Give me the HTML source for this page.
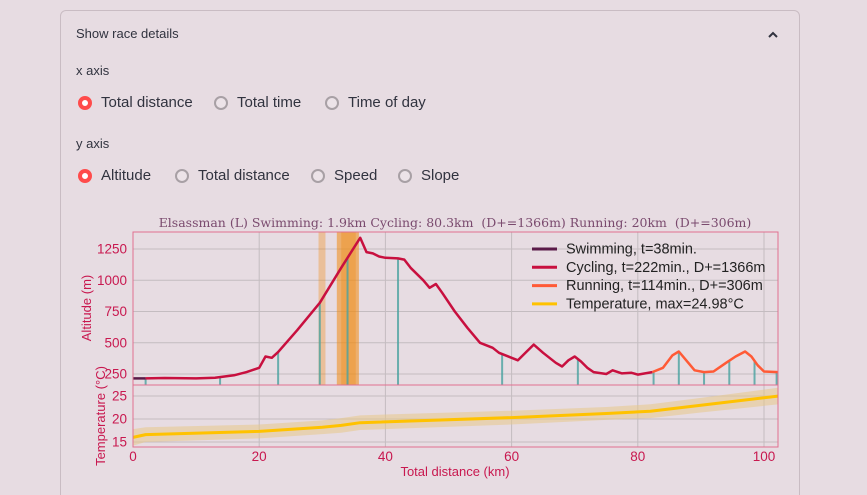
<!DOCTYPE html>
<html style="height:495px;overflow:hidden"><head><meta charset="utf-8"><style>
body{margin:0;width:867px;height:495px;background:#e7dce2;font-family:"Liberation Sans",sans-serif;overflow:hidden;position:relative;color:#31333f}
.panel{position:absolute;left:60px;top:10px;width:740px;height:495px;border:1px solid #c9bcc3;border-radius:6px;box-sizing:border-box}
.t{position:absolute;font-size:14px}
.lbl{position:absolute;font-size:13px}
.r{position:absolute;font-size:15px;display:flex;align-items:center}
.rad{width:14px;height:14px;border:2px solid #a8a0a5;border-radius:50%;box-sizing:border-box;margin-right:9px;background:#ece3e8}
.rad.on{border:4px solid #ff4b4b;background:#fff}
</style></head><body>
<div class="panel"></div>
<div class="t" style="left:76px;top:26px;font-size:13px">Show race details</div>
<svg style="position:absolute;left:767px;top:30px" width="12" height="10"><polyline points="2,7 6,3 10,7" fill="none" stroke="#31333f" stroke-width="2"/></svg>
<div class="lbl" style="left:76px;top:63px">x axis</div>
<div class="r" style="left:78px;top:94px"><span class="rad on"></span>Total distance</div>
<div class="r" style="left:214px;top:94px"><span class="rad"></span>Total time</div>
<div class="r" style="left:325px;top:94px"><span class="rad"></span>Time of day</div>
<div class="lbl" style="left:76px;top:136px">y axis</div>
<div class="r" style="left:78px;top:167px"><span class="rad on"></span>Altitude</div>
<div class="r" style="left:175px;top:167px"><span class="rad"></span>Total distance</div>
<div class="r" style="left:311px;top:167px"><span class="rad"></span>Speed</div>
<div class="r" style="left:398px;top:167px"><span class="rad"></span>Slope</div>
<svg id="c" width="867" height="495" style="position:absolute;left:0;top:0"></svg>
<script>
const swimKm=[0,2];
const swimAlt=[215,215];
const cycKm=[2,5,10,13,16,18,20,21,22,23,26,29.6,33,36,37,38,39,40,42,43,44,46,47,48,49,51,53,55,57,58,60,61,62,63.5,65,67,68,69,70,71,72,73,75,76,77.5,79,80,82.3];
const cycAlt=[215,218,215,220,240,265,300,390,380,425,600,820,1100,1340,1225,1215,1190,1180,1175,1165,1100,1000,940,970,900,750,620,500,460,420,380,360,410,485,420,340,310,360,390,350,300,265,250,280,255,260,245,265];
const runKm=[82.3,84,85.5,86.5,88,89,90.5,92,94,95.5,97,98,99,100,102.2];
const runAlt=[265,300,400,430,340,280,265,270,340,390,430,390,320,270,265];
const tempKm=[0,2,20,30,33,36,60,75,82,90,102.2];
const tempVal=[16,16.6,17.3,18.2,18.6,19.2,20.3,21.2,21.7,23,24.98];
const tempSpread=[1.8,1.6,1.5,1.5,1.6,1.6,1.5,1.4,1.5,1.6,1.8];
const markerKm=[2,13.8,23,29.6,34,42,58.5,70.5,82.5,86.5,90.5,94.5,98.5,102];
const bandKm=[[29.4,30.5,0.35],[32.3,35.8,0.55],[33,35.3,0.35]];
const xTicks=[0,20,40,60,80,100];
const altTicks=[250,500,750,1000,1250];
const tempTicks=[15,20,25];
const X=k=>133+k*6.31;
const YA=a=>249+(1250-a)*0.125;
const YT=t=>396+(25-t)*4.6;
const svg=document.getElementById('c');const NS='http://www.w3.org/2000/svg';
function el(t,a,p){const e=document.createElementNS(NS,t);for(const k in a)e.setAttribute(k,a[k]);(p||svg).appendChild(e);return e;}
function interp(km){const K=cycKm.concat(runKm.slice(1)),A=cycAlt.concat(runAlt.slice(1));for(let i=1;i<K.length;i++)if(km<=K[i]){const f=(km-K[i-1])/(K[i]-K[i-1]);return A[i-1]+f*(A[i]-A[i-1]);}return A[A.length-1];}
const CR='#c8184f';const FF='Liberation Sans';
xTicks.forEach(v=>{const g=el('line',{x1:X(v),x2:X(v),y1:232,y2:447,stroke:'#c4bcc0','stroke-width':1});});
altTicks.forEach(v=>{const g=el('line',{x1:133,x2:778,y1:YA(v),y2:YA(v),stroke:'#c4bcc0'});
const t=el('text',{x:127,y:YA(v)+4.5,'text-anchor':'end','font-size':13.5,fill:CR,'font-family':FF});t.textContent=v;});
tempTicks.forEach(v=>{const g=el('line',{x1:133,x2:778,y1:YT(v),y2:YT(v),stroke:'#c4bcc0'});
const t=el('text',{x:127,y:YT(v)+4.5,'text-anchor':'end','font-size':13.5,fill:CR,'font-family':FF});t.textContent=v;});
xTicks.forEach(v=>{const t=el('text',{x:X(v),y:461,'text-anchor':'middle','font-size':13.5,fill:CR,'font-family':FF});t.textContent=v;});
bandKm.forEach(b=>{const r=el('rect',{x:X(b[0]),y:232,width:X(b[1])-X(b[0]),height:153,fill:'#f08a10',opacity:b[2]});});
markerKm.forEach(k=>{const l=el('line',{x1:X(k),x2:X(k),y1:385,y2:YA(Math.max(interp(k),215)),stroke:'#4aa3a0','stroke-width':2,opacity:0.8});});
function path(K,V,Y,color,w,name){const d=K.map((k,i)=>(i?'L':'M')+X(k).toFixed(1)+','+Y(V[i]).toFixed(1)).join('');const p=el('path',{d:d,fill:'none',stroke:color,'stroke-width':w,'stroke-linejoin':'round'});}
path(swimKm,swimAlt,YA,'#5a1a48',2.5,'swimming-line');
path(cycKm,cycAlt,YA,'#c8103f',2.5,'cycling-line');
path(runKm,runAlt,YA,'#ff5a36',2.5,'running-line');
let d='';tempKm.forEach((k,i)=>d+=(i?'L':'M')+X(k)+','+YT(tempVal[i]+tempSpread[i]));for(let i=tempKm.length-1;i>=0;i--)d+='L'+X(tempKm[i])+','+YT(tempVal[i]-tempSpread[i]);
const tb=el('path',{d:d+'Z',fill:'#e8c98a',opacity:0.55});
path(tempKm,tempVal,YT,'#ffc200',3,'temperature-line');
el('rect',{x:133,y:232,width:645,height:153,fill:'none',stroke:'#e07090','stroke-width':1});
el('rect',{x:133,y:385,width:645,height:62,fill:'none',stroke:'#e07090','stroke-width':1});
const ti=el('text',{x:455,y:227,'text-anchor':'middle','font-size':12.5,fill:'#7a4a6e','font-family':'DejaVu Serif'});ti.textContent='Elsassman (L) Swimming: 1.9km Cycling: 80.3km  (D+=1366m) Running: 20km  (D+=306m)';ti.style.whiteSpace='pre';
const ya=el('text',{x:0,y:0,transform:'translate(91,308) rotate(-90)','text-anchor':'middle','font-size':13,fill:CR,'font-family':FF});ya.textContent='Altitude (m)';
const yt=el('text',{x:0,y:0,transform:'translate(105,416) rotate(-90)','text-anchor':'middle','font-size':13,fill:CR,'font-family':FF});yt.textContent='Temperature (°C)';
const xa=el('text',{x:455,y:476,'text-anchor':'middle','font-size':13,fill:CR,'font-family':FF});xa.textContent='Total distance (km)';
const leg=[['#5a1a48','Swimming, t=38min.'],['#c8103f','Cycling, t=222min., D+=1366m'],['#ff5a36','Running, t=114min., D+=306m'],['#ffc200','Temperature, max=24.98°C']];
leg.forEach((e,i)=>{const y=249+i*18.3;const l=el('line',{x1:532,x2:557,y1:y,y2:y,stroke:e[0],'stroke-width':3});
const t=el('text',{x:566,y:y+4.5,'font-size':14.5,fill:'#222','font-family':FF});t.textContent=e[1];});
</script>
</body></html>
